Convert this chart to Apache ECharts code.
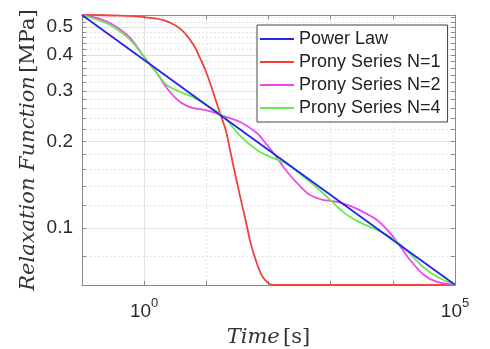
<!DOCTYPE html>
<html>
<head>
<meta charset="utf-8">
<script src="https://cdn.jsdelivr.net/npm/echarts@6/dist/echarts.min.js"></script>
<style>
html, body { margin: 0; padding: 0; background: #fff; }
#chart { width: 490px; height: 349px; }
</style>
</head>
<body>
<div id="chart"></div>
<script>
// values: time in s, relaxation function in MPa
const seriesNames = ['Power Law', 'Prony Series N=1', 'Prony Series N=2', 'Prony Series N=4'];

const timePower = [0.1, 1, 10, 100, 1000, 10000, 100000];
const relaxPower = [0.5505, 0.3838, 0.2677, 0.1867, 0.1302, 0.0908, 0.0634];

const timeN1 = [0.1, 0.4, 1, 2, 3.1, 4.2, 5.5, 6.8, 7.9, 9.5, 11.5, 13.8, 16.6, 20.7, 25, 30, 36, 43.4, 52, 63, 78.5, 94.6, 114, 100000];
const relaxN1 = [0.5505, 0.548, 0.5415, 0.529, 0.508, 0.484, 0.4506, 0.4194, 0.3902, 0.3571, 0.3193, 0.2832, 0.2511, 0.2175, 0.1794, 0.1492, 0.1252, 0.1049, 0.088, 0.0768, 0.0681, 0.0649, 0.0634, 0.0634];

const timeN2 = [0.1, 0.2, 0.32, 0.6, 1, 1.6, 2.3, 3.8, 6, 9.5, 14, 18.5, 35, 65, 95, 127, 165, 220, 320, 465, 750, 1260, 2050, 3300, 5560, 9000, 13000, 18900, 31700, 51300, 100000];
const relaxN2 = [0.5505, 0.533, 0.508, 0.4577, 0.3933, 0.346, 0.3068, 0.2743, 0.2615, 0.2573, 0.2511, 0.2452, 0.2336, 0.2139, 0.1943, 0.1794, 0.1656, 0.1528, 0.14, 0.1302, 0.1252, 0.1232, 0.1193, 0.1137, 0.1066, 0.0961, 0.0866, 0.0774, 0.0686, 0.0649, 0.0634];

const timeN4 = [0.1, 0.2, 0.32, 0.6, 1, 1.6, 2.3, 3.8, 6, 9.9, 18.5, 35, 65, 106, 171, 222, 465, 750, 1580, 2650, 4290, 6930, 11700, 18900, 30500, 51300, 100000];
const relaxN4 = [0.5505, 0.5246, 0.5, 0.4506, 0.3933, 0.346, 0.3143, 0.2972, 0.2855, 0.2678, 0.2452, 0.2089, 0.1867, 0.1766, 0.1697, 0.1643, 0.1446, 0.1323, 0.1137, 0.1058, 0.1008, 0.0961, 0.0894, 0.0812, 0.0732, 0.0676, 0.0634];

const xMajorTicks = [1, 100000];
const xMinorTicks = [10, 100, 1000, 10000];
const yMajorTicks = [0.1, 0.2, 0.3, 0.4, 0.5];
const yMinorTicks = [0.08, 0.12, 0.14, 0.16, 0.18, 0.22, 0.24, 0.26, 0.28, 0.32, 0.34, 0.36, 0.38, 0.42, 0.44, 0.46, 0.48, 0.52, 0.54];

const lg = Math.log10;
const xMin = lg(0.1), xMax = lg(100000);
const yMin = lg(0.0633), yMax = lg(0.5505);
const boxColor = '#8a8a8a';
const textColor = '#2b2b2b';

const toPairs = (ts, vs) => ts.map((t, i) => [lg(t), lg(vs[i])]);

const xAllTicks = [xMin].concat(xMajorTicks.map(lg), xMinorTicks.map(lg)).sort((a, b) => a - b);
const yAllTicks = yMajorTicks.concat(yMinorTicks).map(lg);

function baseAxis(type, extra) {
  const min = type === 'x' ? xMin : yMin;
  const max = type === 'x' ? xMax : yMax;
  return Object.assign({
    type: 'value', min: min, max: max, scale: true,
    axisLine: { show: false, onZero: false },
    axisTick: { show: false },
    axisLabel: { show: false },
    splitLine: { show: false }
  }, extra);
}

const serifTitle = {
  rich: {
    i: { fontFamily: 'DejaVu Serif', fontStyle: 'italic', fontSize: 21, color: '#333' },
    r: { fontFamily: 'DejaVu Serif', fontSize: 21, color: '#333' }
  }
};

const chart = echarts.init(document.getElementById('chart'));

chart.setOption({
  backgroundColor: '#fff',
  animation: false,
  grid: { left: 82, right: 35, top: 15, bottom: 64, containLabel: false, outerBoundsMode: 'none' },
  legend: {
    data: seriesNames,
    orient: 'vertical',
    left: 257,
    top: 25,
    padding: [5, 7, 5, 3],
    itemGap: 5,
    itemWidth: 34,
    itemHeight: 2,
    icon: 'rect',
    backgroundColor: '#fff',
    borderColor: '#444',
    borderWidth: 1,
    textStyle: { fontFamily: 'Liberation Sans', fontSize: 18, lineHeight: 18, color: '#222' }
  },
  xAxis: [
    baseAxis('x', {
      position: 'bottom',
      name: '{i|Time} {r|[s]}',
      nameLocation: 'middle',
      nameGap: 42,
      nameMoveOverlap: false,
      nameTextStyle: serifTitle,
      axisLine: { show: true, onZero: false, lineStyle: { color: boxColor, width: 1 } },
      axisTick: { show: true, inside: true, length: 4, customValues: xAllTicks, lineStyle: { color: boxColor } },
      axisLabel: {
        show: true,
        customValues: xMajorTicks.map(lg),
        margin: 12,
        formatter: v => '{b|10}{s|' + Math.round(v) + '}',
        rich: {
          b: { fontFamily: 'Liberation Sans', fontSize: 19, color: textColor, lineHeight: 24, verticalAlign: 'bottom' },
          s: { fontFamily: 'Liberation Sans', fontSize: 13, color: textColor, lineHeight: 24, verticalAlign: 'top' }
        }
      }
    }),
    baseAxis('x', {
      position: 'top',
      axisLine: { show: true, onZero: false, lineStyle: { color: boxColor, width: 1 } },
      axisTick: { show: true, inside: true, length: 4, customValues: xAllTicks, lineStyle: { color: boxColor } }
    }),
    baseAxis('x', {
      axisTick: { show: false, customValues: xMajorTicks.map(lg) },
      splitLine: { show: true, lineStyle: { color: '#e2e2e2', width: 1 } }
    }),
    baseAxis('x', {
      axisTick: { show: false, customValues: xMinorTicks.map(lg) },
      splitLine: { show: true, lineStyle: { color: '#e4e4e4', width: 1, type: [2, 2] } }
    })
  ],
  yAxis: [
    baseAxis('y', {
      position: 'left',
      name: '{i|Relaxation Function} {r|[MPa]}',
      nameLocation: 'middle',
      nameGap: 43,
      nameMoveOverlap: false,
      nameTextStyle: serifTitle,
      axisLine: { show: true, onZero: false, lineStyle: { color: boxColor, width: 1 } },
      axisTick: { show: true, inside: true, length: 4, customValues: yAllTicks, lineStyle: { color: boxColor } },
      axisLabel: {
        show: true,
        customValues: yMajorTicks.map(lg),
        margin: 9,
        fontFamily: 'Liberation Sans',
        fontSize: 19,
        color: textColor,
        formatter: v => Math.pow(10, v).toFixed(1)
      }
    }),
    baseAxis('y', {
      position: 'right',
      axisLine: { show: true, onZero: false, lineStyle: { color: boxColor, width: 1 } },
      axisTick: { show: true, inside: true, length: 4, customValues: yAllTicks, lineStyle: { color: boxColor } }
    }),
    baseAxis('y', {
      position: 'left',
      axisTick: { show: false, customValues: yMajorTicks.map(lg) },
      splitLine: { show: true, lineStyle: { color: '#e2e2e2', width: 1 } }
    }),
    baseAxis('y', {
      position: 'right',
      axisTick: { show: false, customValues: yMinorTicks.map(lg) },
      splitLine: { show: true, lineStyle: { color: '#e4e4e4', width: 1, type: [2, 2] } }
    })
  ],
  series: [
    {
      name: seriesNames[0], type: 'line', data: toPairs(timePower, relaxPower),
      symbol: 'none', clip: false, z: 5,
      lineStyle: { color: '#2424ee', width: 1.8 }, itemStyle: { color: '#2424ee' }
    },
    {
      name: seriesNames[1], type: 'line', data: toPairs(timeN1, relaxN1),
      symbol: 'none', clip: false, smooth: 0.3,
      lineStyle: { color: '#f2403a', width: 1.8 }, itemStyle: { color: '#f2403a' }
    },
    {
      name: seriesNames[2], type: 'line', data: toPairs(timeN2, relaxN2),
      symbol: 'none', clip: false, smooth: 0.3,
      lineStyle: { color: '#f046f0', width: 1.8 }, itemStyle: { color: '#f046f0' }
    },
    {
      name: seriesNames[3], type: 'line', data: toPairs(timeN4, relaxN4),
      symbol: 'none', clip: false, smooth: 0.3,
      lineStyle: { color: '#62ee48', width: 1.8 }, itemStyle: { color: '#62ee48' }
    }
  ]
});
</script>
</body>
</html>
